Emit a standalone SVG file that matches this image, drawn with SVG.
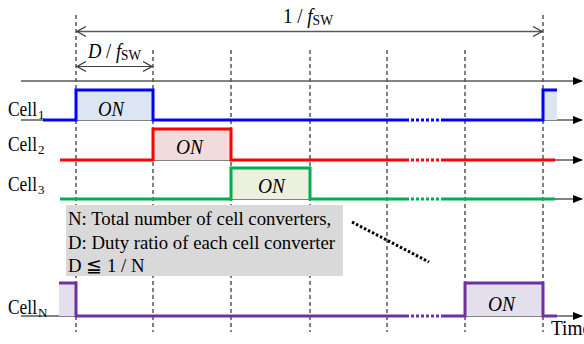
<svg xmlns="http://www.w3.org/2000/svg" width="584" height="344" viewBox="0 0 584 344">
<style>
.ax{stroke:#595959;stroke-width:1.4;fill:none}
.vd{stroke:#000;stroke-width:1;stroke-dasharray:4 3;fill:none}
.sig{stroke-width:3;fill:none;stroke-linejoin:miter}
.gap{stroke:#fff;stroke-width:4;stroke-dasharray:2 3;fill:none}
.t{font-family:"Liberation Serif","Times New Roman",serif;fill:#000}
.lbl{font-size:21px}
.sub{font-size:13px}
.on{font-size:21px;font-style:italic}
.box{font-size:18.8px}
</style>
<defs>
<marker id="fa" markerWidth="10" markerHeight="8" refX="9" refY="4" orient="auto" markerUnits="userSpaceOnUse">
<path d="M0,0 L10,4 L0,8 Z" fill="#000"/>
</marker>
<marker id="oa" markerWidth="10" markerHeight="12" refX="9" refY="6" orient="auto-start-reverse" markerUnits="userSpaceOnUse">
<path d="M0,1 L9,6 L0,11" fill="none" stroke="#404040" stroke-width="1.2"/>
</marker>
</defs>

<g id="grid">
<line class="vd" x1="76" y1="15" x2="76" y2="332"/>
<line class="vd" x1="153" y1="50" x2="153" y2="332"/>
<line class="vd" x1="231" y1="50" x2="231" y2="332"/>
<line class="vd" x1="310" y1="50" x2="310" y2="332"/>
<line class="vd" x1="387" y1="50" x2="387" y2="332"/>
<line class="vd" x1="465" y1="50" x2="465" y2="332"/>
<line class="vd" x1="543" y1="15" x2="543" y2="332"/>
</g>

<g id="axes">
<line class="ax" x1="21" y1="81" x2="582" y2="81" marker-end="url(#fa)"/>
<line class="ax" x1="21" y1="120" x2="582" y2="120" marker-end="url(#fa)"/>
<line class="ax" x1="62" y1="160" x2="582" y2="160" marker-end="url(#fa)"/>
<line class="ax" x1="62" y1="199" x2="582" y2="199" marker-end="url(#fa)"/>
<line class="ax" x1="21" y1="316" x2="582" y2="316" marker-end="url(#fa)"/>
</g>

<g id="dimensions">
<line x1="77" y1="31.5" x2="542" y2="31.5" stroke="#595959" stroke-width="1.4" marker-start="url(#oa)" marker-end="url(#oa)"/>
<text class="t" x="283" y="23" font-size="21" textLength="50" lengthAdjust="spacingAndGlyphs">1 / <tspan font-style="italic">f</tspan><tspan font-size="15" dy="2">SW</tspan></text>
<line x1="77" y1="66.5" x2="152" y2="66.5" stroke="#404040" stroke-width="1.2" marker-start="url(#oa)" marker-end="url(#oa)"/>
<text class="t" x="88" y="58" font-size="21" textLength="53" lengthAdjust="spacingAndGlyphs"><tspan font-style="italic">D</tspan> / <tspan font-style="italic">f</tspan><tspan font-size="15" dy="2">SW</tspan></text>
</g>

<g id="cell1">
<rect x="76" y="90" width="77" height="30" fill="#dce6f2"/>
<rect x="543" y="90" width="14" height="30" fill="#dce6f2"/>
<polyline class="sig" stroke="#0000ff" points="43,120 76,120 76,90 153,90 153,120 543,120 543,90 557,90"/>
<line class="gap" x1="409" y1="120" x2="444" y2="120"/>
<text class="t lbl" x="8" y="116"><tspan textLength="29" lengthAdjust="spacingAndGlyphs">Cell</tspan><tspan class="sub" dx="1" dy="3">1</tspan></text>
<text class="t on" x="98" y="116" textLength="26" lengthAdjust="spacingAndGlyphs">ON</text>
</g>

<g id="cell2">
<rect x="153" y="129" width="78" height="31" fill="#f2dcdb"/>
<polyline class="sig" stroke="#ff0000" points="60,160 153,160 153,129 231,129 231,160 555,160"/>
<line class="gap" x1="409" y1="160" x2="444" y2="160"/>
<text class="t lbl" x="8" y="151"><tspan textLength="29" lengthAdjust="spacingAndGlyphs">Cell</tspan><tspan class="sub" dx="1" dy="3">2</tspan></text>
<text class="t on" x="176" y="154" textLength="27" lengthAdjust="spacingAndGlyphs">ON</text>
</g>

<g id="cell3">
<rect x="231" y="168" width="79" height="31" fill="#ebf1de"/>
<polyline class="sig" stroke="#00b050" points="60,199 231,199 231,168 310,168 310,199 555,199"/>
<line class="gap" x1="409" y1="199" x2="444" y2="199"/>
<text class="t lbl" x="8" y="191"><tspan textLength="29" lengthAdjust="spacingAndGlyphs">Cell</tspan><tspan class="sub" dx="1" dy="3">3</tspan></text>
<text class="t on" x="258" y="193" textLength="27" lengthAdjust="spacingAndGlyphs">ON</text>
</g>

<g id="cellN">
<rect x="59" y="283" width="17" height="33" fill="#e4dfec"/>
<rect x="465" y="283" width="78" height="33" fill="#e4dfec"/>
<polyline class="sig" stroke="#7030a0" points="59,283 76,283 76,316 465,316 465,283 543,283 543,316 557,316"/>
<line class="gap" x1="409" y1="316" x2="444" y2="316"/>
<text class="t lbl" x="8" y="314"><tspan textLength="29" lengthAdjust="spacingAndGlyphs">Cell</tspan><tspan class="sub" font-size="12" dx="1" dy="3">N</tspan></text>
<text class="t on" x="488" y="311" textLength="27" lengthAdjust="spacingAndGlyphs">ON</text>
</g>

<g id="note">
<rect x="66" y="205" width="277" height="71" fill="#d9d9d9"/>
<text class="t box" x="68" y="225">N: Total number of cell converters,</text>
<text class="t box" x="68" y="249">D: Duty ratio of each cell converter</text>
<text class="t box" x="68" y="272" font-family="'Liberation Serif','Noto Sans CJK JP',serif">D ≦ 1 / N</text>
</g>

<g id="connectors">
<line x1="352" y1="222" x2="429" y2="262" stroke="#000" stroke-width="3" stroke-dasharray="2.5 2"/>
</g>

<text id="time" class="t" x="551" y="335" font-size="20" textLength="40" lengthAdjust="spacingAndGlyphs">Time</text>
</svg>
